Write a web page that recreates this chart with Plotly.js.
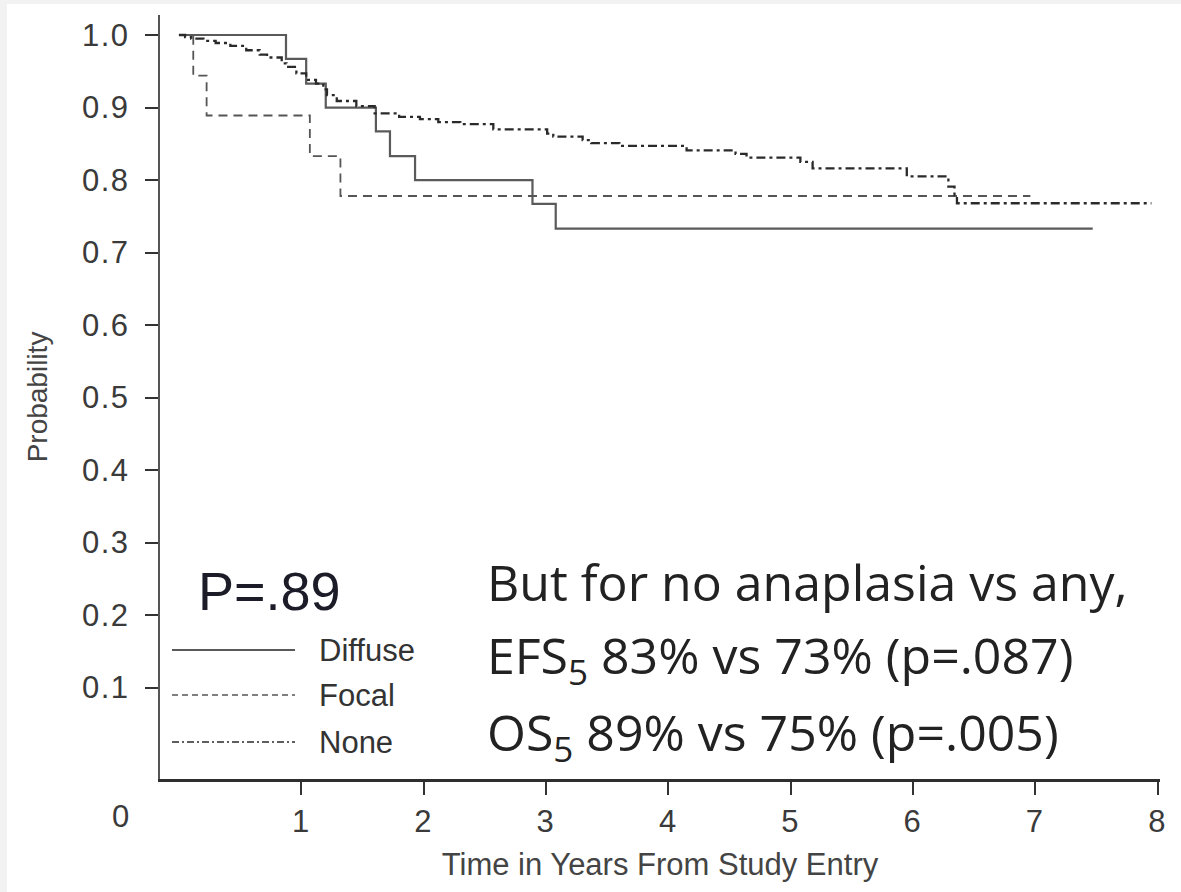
<!DOCTYPE html>
<html>
<head>
<meta charset="utf-8">
<script src="https://cdn.plot.ly/plotly-3.0.1.min.js"></script>
<style>
  html, body { margin: 0; padding: 0; background: #f2f2f2; }
  #frame { position: absolute; left: 7px; top: 4px; width: 1174px; height: 888px; background: #ffffff; }
  #chart { width: 1174px; height: 888px; }
  .ytick text, .xtick text { letter-spacing: 1.5px; }
</style>
</head>
<body>
<div id="frame"><div id="chart"></div></div>
<script>
// Kaplan-Meier event-free survival by anaplasia type
const groups = ["Diffuse", "Focal", "None"];

const diffuseTime = [0, 0.875, 1.04, 1.20, 1.61, 1.725, 1.93, 2.89, 3.08, 7.47];
const diffuseSurv = [1.0, 0.967, 0.933, 0.900, 0.867, 0.833, 0.800, 0.767, 0.733, 0.733];

const focalTime = [0, 0.117, 0.226, 1.07, 1.32, 6.96];
const focalSurv = [1.0, 0.944, 0.889, 0.833, 0.778, 0.778];

const noneTime = [0, 0.05, 0.10, 0.20, 0.30, 0.42, 0.55, 0.66, 0.72, 0.84, 0.88, 0.96,
                  1.04, 1.12, 1.18, 1.21, 1.29, 1.45, 1.60, 1.80, 1.97, 2.12, 2.30, 2.57,
                  3.01, 3.06, 3.30, 3.37, 3.60, 4.15, 4.55, 4.64, 5.08, 5.18, 5.95, 6.29,
                  6.34, 6.36, 7.95];
const noneSurv = [1.0, 0.997, 0.995, 0.992, 0.989, 0.985, 0.979, 0.973, 0.969, 0.961, 0.956, 0.947,
                  0.938, 0.933, 0.925, 0.917, 0.909, 0.902, 0.892, 0.887, 0.884, 0.880, 0.877, 0.870,
                  0.864, 0.860, 0.855, 0.851, 0.847, 0.841, 0.836, 0.831, 0.825, 0.816, 0.805, 0.791,
                  0.779, 0.768, 0.768];

const xTicks = [1, 2, 3, 4, 5, 6, 7, 8];
const yTicks = [0.1, 0.2, 0.3, 0.4, 0.5, 0.6, 0.7, 0.8, 0.9, 1.0];
const yTickText = ["0.1", "0.2", "0.3", "0.4", "0.5", "0.6", "0.7", "0.8", "0.9", "1.0"];

const pValueText = "P=.89";
const summaryLines = [
  "But for no anaplasia vs any,",
  "EFS<sub>5</sub> 83% vs 73% (p=.087)",
  "OS<sub>5</sub> 89% vs 75% (p=.005)"
];

const sans = '"Liberation Sans", Arial, sans-serif';
const inkTick = "#3a3a3a";

const styles = {
  Diffuse: { color: "#5a5a5a", width: 2.2, dash: "solid", key: "solid" },
  Focal:   { color: "#555555", width: 1.8, dash: "9px,6px", key: "6px,4px" },
  None:    { color: "#2a2a2a", width: 2.3, dash: "9px,4px,3px,4px", key: "7px,3px,2px,3px" }
};

const series = { Diffuse: [diffuseTime, diffuseSurv], Focal: [focalTime, focalSurv], None: [noneTime, noneSurv] };

const traces = groups.map(g => ({
  type: "scatter",
  mode: "lines",
  name: g,
  x: series[g][0],
  y: series[g][1],
  line: { shape: "hv", color: styles[g].color, width: styles[g].width, dash: styles[g].dash },
  showlegend: false,
  hoverinfo: "x+y+name"
}));

// Plot area geometry inside the chart div (pixels)
const W = 1174, H = 888;
const M = { l: 153, r: 21, t: 11, b: 113 };
const plotW = W - M.l - M.r, plotH = H - M.t - M.b;
// convert pixel offsets within the chart div to paper units
const px = v => (v - M.l) / plotW;
const py = v => (H - M.b - v) / plotH;

// legend keys drawn beside the plot's lower-left corner
const keyX0 = 165, keyX1 = 288, keyTextX = 310;
const keyRows = [646, 691, 738];

const shapes = groups.map((g, i) => ({
  type: "line", xref: "paper", yref: "paper",
  x0: px(keyX0), x1: px(keyX1), y0: py(keyRows[i]), y1: py(keyRows[i]),
  line: { color: styles[g].color, width: g === "Diffuse" ? 2 : 1.5, dash: styles[g].key }
}));

const annotations = [];
groups.forEach((g, i) => annotations.push({
  xref: "paper", yref: "paper", x: px(keyTextX), y: py(keyRows[i]),
  xanchor: "left", yanchor: "middle", showarrow: false, text: g,
  font: { family: sans, size: 31, color: "#333" }
}));
annotations.push({
  xref: "paper", yref: "paper", x: px(262), y: py(587),
  xanchor: "center", yanchor: "middle", showarrow: false, text: pValueText,
  font: { family: sans, size: 54, color: "#1c1c28" }
});
const summaryRows = [578, 654, 731];
summaryLines.forEach((t, i) => annotations.push({
  xref: "paper", yref: "paper", x: px(478), y: py(summaryRows[i]),
  xanchor: "left", yanchor: "middle", showarrow: false, text: t,
  font: { family: '"Open Sans", sans-serif', size: 50, color: "#222" }
}));
// shared origin label at the axes corner
annotations.push({
  xref: "paper", yref: "paper", x: px(113), y: py(812),
  xanchor: "center", yanchor: "middle", showarrow: false, text: "0",
  font: { family: sans, size: 31, color: inkTick }
});

const layout = {
  width: W, height: H,
  margin: M,
  paper_bgcolor: "#ffffff",
  plot_bgcolor: "#ffffff",
  showlegend: false,
  xaxis: {
    range: [-0.155, 8.02],
    tickvals: xTicks,
    ticktext: xTicks.map(String),
    ticks: "outside", ticklen: 13, tickwidth: 2, tickcolor: "#333",
    ticklabelstandoff: 0,
    showline: true, linecolor: "#2e2e2e", linewidth: 2.6,
    showgrid: false, zeroline: false,
    tickfont: { family: sans, size: 31, color: inkTick },
    title: { text: "Time in Years From Study Entry", standoff: 16,
             font: { family: sans, size: 31, color: "#444" } }
  },
  yaxis: {
    range: [-0.026, 1.0276],
    tickvals: yTicks,
    ticktext: yTickText,
    ticks: "outside", ticklen: 13, tickwidth: 2, tickcolor: "#333",
    ticklabelstandoff: 9,
    showline: true, linecolor: "#555", linewidth: 2.2,
    showgrid: false, zeroline: false,
    tickfont: { family: sans, size: 31, color: inkTick },
    title: { text: "Probability", standoff: 26,
             font: { family: sans, size: 28, color: "#444" } }
  },
  shapes: shapes,
  annotations: annotations
};

Plotly.newPlot("chart", traces, layout, { displayModeBar: false, staticPlot: true });
</script>
</body>
</html>
